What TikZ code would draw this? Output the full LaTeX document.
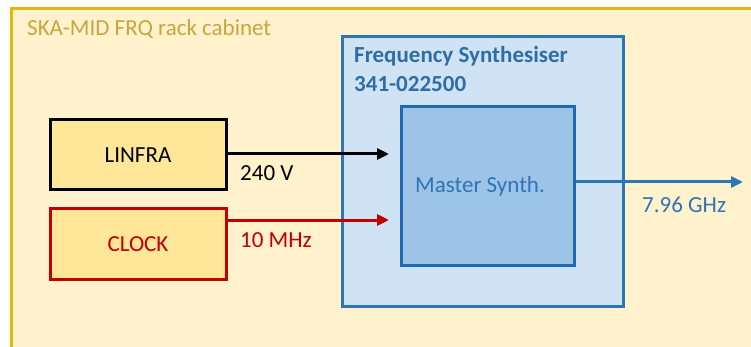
\documentclass[tikz,border=0pt]{standalone}
\usepackage{fontspec}
\setmainfont{Carlito}
\usetikzlibrary{arrows.meta}
\definecolor{cabfill}{HTML}{FFF2CC}
\definecolor{cabline}{HTML}{E2B80C}
\definecolor{cabtext}{HTML}{C9A63C}
\definecolor{synfill}{HTML}{D0E3F4}
\definecolor{synline}{HTML}{2E75B6}
\definecolor{synText}{HTML}{2E6DA8}
\definecolor{masfill}{HTML}{9DC3E6}
\definecolor{masline}{HTML}{1F6AAE}
\definecolor{boxfill}{HTML}{FFE699}
\definecolor{redline}{HTML}{C00000}
\tikzset{
  txt/.style={font=\fontsize{23}{26}\selectfont},
  srcbox/.style={draw, line width=3pt, fill=boxfill, minimum width=176pt, minimum height=70pt, inner sep=0pt, txt},
  arr/.style={line width=3pt, -{Triangle[length=12pt,width=11pt]}},
  lbl/.style={anchor=base west, inner sep=0pt, txt},
}
\begin{document}
\begin{tikzpicture}[x=1pt,y=-1pt]
\useasboundingbox (0,0) rectangle (751,347);
\fill[white] (0,0) rectangle (751,347);
\clip (0,0) rectangle (751,347);
% cabinet
\draw[cabline, fill=cabfill, line width=3pt] (11,9) rectangle (770,370);
\node[lbl, text=cabtext] (cabtitle) at (27,36) {SKA-MID FRQ rack cabinet};
% frequency synthesiser
\node[draw=synline, fill=synfill, line width=3pt, minimum width=281pt, minimum height=270pt, inner sep=0pt] (synth) at (483,171.5) {};
\node[lbl, text=synText, font=\bfseries\fontsize{23}{26}\selectfont] (synthtitle) at (354,63) {Frequency Synthesiser};
\node[lbl, text=synText, font=\bfseries\fontsize{23}{26}\selectfont] (synthnum) at (354,92) {341-022500};
% master synth
\node[draw=masline, fill=masfill, line width=3pt, minimum width=173pt, minimum height=159pt, inner sep=0pt] (master) at (488,186) {};
\node[txt, text=synline, inner sep=0pt] (mastertext) at (480,186) {Master Synth.};
% sources
\node[srcbox, draw=black] (linfra) at (138,155) {LINFRA};
\node[srcbox, draw=redline, text=redline] (clock) at (138,244) {CLOCK};
% connectors
\draw[arr, black, shorten >=11pt] ([yshift=1pt]linfra.east) -- ([yshift=1pt]linfra.east -| master.west);
\draw[arr, redline, shorten >=11pt] ([yshift=24pt]clock.east) -- ([yshift=24pt]clock.east -| master.west);
\coordinate (out) at (743,182);
\draw[arr, synline] (master.east |- out) -- (out);
% labels
\node[lbl, text=black] (v240) at (240,181) {240 V};
\node[lbl, text=redline] (mhz) at (240,247) {10 MHz};
\node[lbl, text=synline] (ghz) at (642,213) {7.96 GHz};
\end{tikzpicture}
\end{document}
